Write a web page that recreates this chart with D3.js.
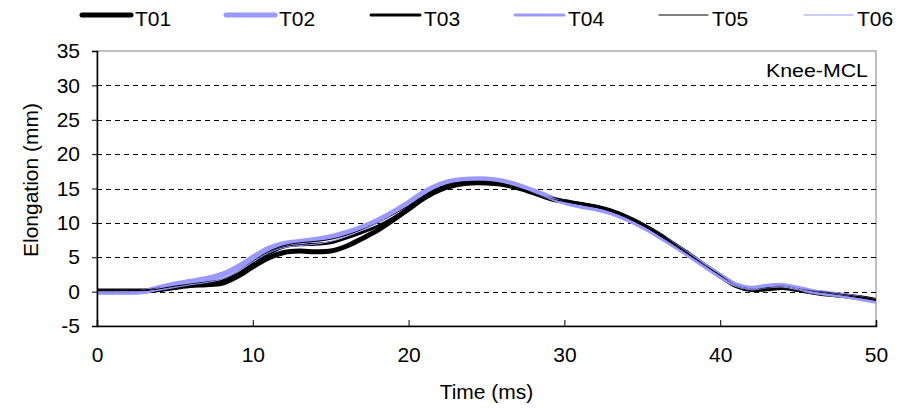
<!DOCTYPE html>
<html>
<head>
<meta charset="utf-8">
<script src="https://cdn.jsdelivr.net/npm/d3@7"></script>
<style>
  body { margin: 0; background: #fff; }
  text { font-family: "Liberation Sans", Arial, sans-serif; fill: #000; }
</style>
</head>
<body>
<div id="chart"></div>
<script>
// time axis samples (ms)
let times = d3.range(0, 51, 1);

let seriesNames = ["T01", "T02", "T03", "T04", "T05", "T06"];

let t01 = [0.1, 0.1, 0.1, 0.1, 0.3, 0.6, 0.9, 1.0, 1.2, 2.2, 3.6, 4.9, 5.7, 5.9, 5.8, 5.9, 6.6, 7.7, 8.9, 10.4, 12.0, 13.6, 14.8, 15.5, 15.8, 15.8, 15.6, 15.1, 14.4, 13.6, 13.1, 12.7, 12.3, 11.7, 10.8, 9.7, 8.4, 6.9, 5.4, 3.8, 2.3, 0.9, 0.3, 0.4, 0.6, 0.3, -0.1, -0.4, -0.6, -0.9, -1.3];
let t02 = [-0.1, -0.1, -0.1, 0.0, 0.6, 1.1, 1.5, 1.9, 2.5, 3.6, 5.0, 6.3, 7.0, 7.3, 7.6, 8.0, 8.6, 9.4, 10.4, 11.6, 13.0, 14.5, 15.6, 16.2, 16.4, 16.4, 16.1, 15.5, 14.7, 13.8, 13.0, 12.5, 12.1, 11.5, 10.6, 9.5, 8.2, 6.8, 5.3, 3.8, 2.3, 1.0, 0.5, 0.8, 0.9, 0.5, 0.0, -0.3, -0.6, -1.0, -1.4];
let t03 = [0.1, 0.1, 0.1, 0.1, 0.4, 0.7, 1.0, 1.2, 1.5, 2.5, 4.0, 5.5, 6.5, 6.8, 6.9, 7.1, 7.8, 8.6, 9.5, 10.7, 12.2, 13.8, 15.0, 15.7, 16.0, 16.0, 15.7, 15.2, 14.5, 13.7, 13.2, 12.8, 12.4, 11.8, 10.9, 9.7, 8.4, 6.9, 5.3, 3.7, 2.2, 0.8, 0.3, 0.5, 0.7, 0.3, -0.1, -0.3, -0.6, -0.9, -1.3];
let t04 = [-0.2, -0.2, -0.2, -0.1, 0.4, 0.9, 1.3, 1.6, 2.2, 3.3, 4.7, 6.0, 6.8, 7.1, 7.4, 7.8, 8.4, 9.2, 10.2, 11.4, 12.8, 14.3, 15.5, 16.1, 16.3, 16.3, 16.0, 15.4, 14.6, 13.7, 12.9, 12.3, 11.9, 11.3, 10.4, 9.3, 8.0, 6.6, 5.1, 3.6, 2.1, 0.9, 0.4, 0.7, 0.8, 0.4, -0.1, -0.4, -0.7, -1.1, -1.5];
let t05 = [0.0, 0.0, 0.0, 0.1, 0.4, 0.8, 1.1, 1.4, 1.8, 2.9, 4.4, 5.8, 6.7, 7.1, 7.3, 7.6, 8.2, 9.0, 10.0, 11.2, 12.5, 14.0, 15.2, 15.9, 16.1, 16.1, 15.8, 15.2, 14.4, 13.6, 13.1, 12.7, 12.3, 11.7, 10.8, 9.7, 8.3, 6.8, 5.3, 3.8, 2.3, 0.9, 0.4, 0.6, 0.8, 0.4, 0.0, -0.3, -0.6, -0.9, -1.3];
let t06 = [0.0, 0.0, 0.0, 0.0, 0.2, 0.6, 1.0, 1.3, 1.8, 2.9, 4.3, 5.6, 6.4, 6.7, 6.9, 7.3, 8.0, 8.9, 10.0, 11.3, 12.7, 14.2, 15.4, 16.0, 16.2, 16.2, 15.9, 15.3, 14.5, 13.6, 12.8, 12.3, 11.9, 11.3, 10.5, 9.4, 8.1, 6.7, 5.2, 3.7, 2.2, 0.9, 0.4, 0.7, 0.8, 0.4, -0.1, -0.4, -0.7, -1.1, -1.5];

let xTicks = [0, 10, 20, 30, 40, 50];
let yTicks = [-5, 0, 5, 10, 15, 20, 25, 30, 35];
let gridValues = [0, 5, 10, 15, 20, 25, 30];

let allSeries = [t01, t02, t03, t04, t05, t06];
let colors = ["#000000", "#9999ff", "#000000", "#9999ff", "#000000", "#9999ff"];
let widths = [5, 5, 3, 3, 1, 1];

let width = 909,
  height = 412;
let margin = { top: 51, right: 33, bottom: 86, left: 97 };
let plotW = width - margin.left - margin.right,
  plotH = height - margin.top - margin.bottom;

let svg = d3
  .select("#chart")
  .append("svg")
  .attr("width", width)
  .attr("height", height);

let x = d3.scaleLinear().domain([0, 50]).range([margin.left, margin.left + plotW]);
let y = d3.scaleLinear().domain([-5, 35]).range([margin.top + plotH, margin.top]);

// plot area border
svg
  .append("rect")
  .attr("x", margin.left)
  .attr("y", margin.top)
  .attr("width", plotW)
  .attr("height", plotH)
  .attr("fill", "none")
  .attr("stroke", "#808080")
  .attr("stroke-width", 1);

// dashed gridlines
gridValues.forEach((g) =>
  svg
    .append("line")
    .attr("x1", margin.left)
    .attr("x2", margin.left + plotW)
    .attr("y1", Math.round(y(g)) + 0.5)
    .attr("y2", Math.round(y(g)) + 0.5)
    .attr("stroke", "#000")
    .attr("stroke-width", 1)
    .attr("stroke-dasharray", "5,4")
);

let line = d3
  .line()
  .x((d, i) => x(times[i]))
  .y((d) => y(d))
  .curve(d3.curveCatmullRom);

svg
  .append("clipPath")
  .attr("id", "clip")
  .append("rect")
  .attr("x", margin.left)
  .attr("y", margin.top)
  .attr("width", plotW)
  .attr("height", plotH);

let lines = svg.append("g").attr("clip-path", "url(#clip)");
for (var i = 0; i < allSeries.length; i++) {
  lines
    .append("path")
    .datum(allSeries[i])
    .attr("d", line)
    .attr("fill", "none")
    .attr("stroke", colors[i])
    .attr("stroke-width", widths[i])
    .attr("stroke-linejoin", "round");
}

// y axis
let yAxis = svg
  .append("g")
  .attr("transform", `translate(${margin.left},0)`)
  .call(
    d3.axisLeft(y).tickValues(yTicks).tickSize(5).tickPadding(12)
      .tickFormat((d) => String(d))
  );
// x axis
let xAxis = svg
  .append("g")
  .attr("transform", `translate(0,${margin.top + plotH})`)
  .call(
    d3.axisBottom(x).tickValues(xTicks).tickSize(-6).tickPadding(21)
      .tickFormat((d) => String(d))
  );

[yAxis, xAxis].forEach((a) => {
  a.select(".domain").attr("stroke", "#000").attr("stroke-width", 1.5);
  a.selectAll(".tick line").attr("stroke", "#000");
  a.selectAll(".tick text").attr("font-size", 21).attr("fill", "#000");
});

// axis titles
svg
  .append("text")
  .attr("transform", `translate(38,180) rotate(-90)`)
  .attr("text-anchor", "middle")
  .attr("font-size", 21)
  .text("Elongation (mm)");

svg
  .append("text")
  .attr("x", margin.left + plotW / 2)
  .attr("y", 399)
  .attr("text-anchor", "middle")
  .attr("font-size", 21)
  .text("Time (ms)");

// panel label
svg
  .append("text")
  .attr("x", 868)
  .attr("y", 77)
  .attr("text-anchor", "end")
  .attr("font-size", 18)
  .attr("textLength", 102)
  .attr("lengthAdjust", "spacingAndGlyphs")
  .text("Knee-MCL");

// legend
let legendX = [80, 224, 369, 513, 657, 802];
for (var i = 0; i < seriesNames.length; i++) {
  svg
    .append("line")
    .attr("x1", legendX[i] + 2)
    .attr("x2", legendX[i] + 51)
    .attr("y1", 15)
    .attr("y2", 15)
    .attr("stroke", colors[i])
    .attr("stroke-width", widths[i])
    .attr("stroke-linecap", "round");
  svg
    .append("text")
    .attr("x", legendX[i] + 55)
    .attr("y", 26)
    .attr("font-size", 21)
    .text(seriesNames[i]);
}
</script>
</body>
</html>
